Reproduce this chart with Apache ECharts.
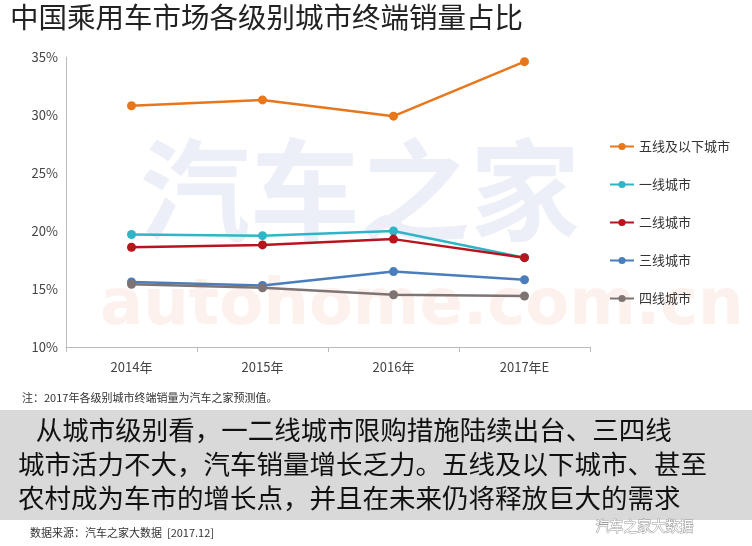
<!DOCTYPE html>
<html><head><meta charset="utf-8">
<script src="https://cdn.jsdelivr.net/npm/echarts@6/dist/echarts.min.js"></script>
<style>html,body{margin:0;padding:0;background:#fff}#c{width:752px;height:546px}</style>
</head><body><div id="c"></div>
<script>
const years = ['2014年', '2015年', '2016年', '2017年E'];
const tier5 = [30.8, 31.3, 29.9, 34.6];
const tier1 = [19.7, 19.6, 20.0, 17.7];
const tier2 = [18.6, 18.8, 19.3, 17.7];
const tier3 = [15.6, 15.3, 16.5, 15.8];
const tier4 = [15.4, 15.1, 14.5, 14.4];

const font = '"Noto Sans CJK SC", sans-serif';
const mk = (name, data, color) => ({
    name, data, type: 'line', symbol: 'circle', symbolSize: 9,
    lineStyle: { width: 2.5, color }, itemStyle: { color }
});

const chart = echarts.init(document.getElementById('c'));
chart.setOption({
    textStyle: { fontFamily: font },
    grid: { left: 66, right: 162, top: 57, bottom: 199 },
    legend: {
        orient: 'vertical', left: 604, top: 135, itemGap: 25, itemWidth: 24, itemHeight: 9,
        textStyle: { fontSize: 13, color: '#333' },
        data: ['五线及以下城市', '一线城市', '二线城市', '三线城市', '四线城市']
    },
    xAxis: {
        type: 'category', data: years,
        axisLine: { lineStyle: { color: '#bbb' } }, axisTick: { show: true, lineStyle: { color: '#bbb' } },
        axisLabel: { color: '#444', fontSize: 13, margin: 14 }
    },
    yAxis: {
        type: 'value', min: 10, max: 35, interval: 5,
        axisLine: { show: true, lineStyle: { color: '#bbb' } },
        splitLine: { show: false },
        axisLabel: { color: '#444', fontSize: 13, formatter: '{value}%' }
    },
    graphic: [
        { type: 'text', left: 10, top: 3, style: { text: '中国乘用车市场各级别城市终端销量占比', fontSize: 28.5, fill: '#222', fontFamily: font } },
        { type: 'text', left: 140, top: 135, z: -1, style: { text: '汽车之家', fontSize: 110, fontWeight: 'bold', fill: 'rgba(200,210,235,0.35)', fontFamily: font } },
        { type: 'text', left: 100, top: 275, z: -1, style: { text: 'autohome.com.cn', fontSize: 64, fontWeight: 'bold', fill: 'rgba(245,215,200,0.35)', fontFamily: 'DejaVu Sans' } },
        { type: 'text', left: 22, top: 392, style: { text: '注：2017年各级别城市终端销量为汽车之家预测值。', fontSize: 11, fill: '#333', fontFamily: font } },
        { type: 'rect', shape: { x: 0, y: 410, width: 752, height: 110 }, style: { fill: '#d9d9d9' } },
        { type: 'text', left: 18, top: 413, style: {
            text: '   从城市级别看，一二线城市限购措施陆续出台、三四线\n城市活力不大，汽车销量增长乏力。五线及以下城市、甚至\n农村成为车市的增长点，并且在未来仍将释放巨大的需求',
            fontSize: 26.5, lineHeight: 34, fill: '#111', fontFamily: font } },
        { type: 'text', left: 30, top: 527, style: { text: '数据来源：汽车之家大数据  [2017.12]', fontSize: 11, fill: '#333', fontFamily: font } },
        { type: 'text', left: 595, top: 518, style: { text: '汽车之家大数据', fontSize: 14, fill: '#fff', stroke: '#999', lineWidth: 1, fontFamily: font } }
    ],
    series: [
        mk('五线及以下城市', tier5, '#e8761b'),
        mk('一线城市', tier1, '#2fb5c6'),
        mk('二线城市', tier2, '#b8141d'),
        mk('三线城市', tier3, '#4a7dbb'),
        mk('四线城市', tier4, '#7f7474')
    ]
});
</script></body></html>
